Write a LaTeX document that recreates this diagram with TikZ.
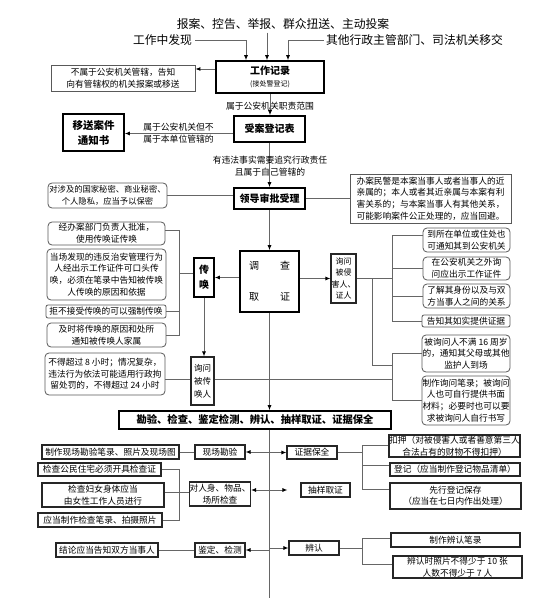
\documentclass[tikz,border=0pt]{standalone}
\usepackage{fontspec}
\setmainfont{Noto Sans CJK SC}
\usetikzlibrary{arrows.meta,calc}
\begin{document}
\begin{tikzpicture}[x=1pt,y=-1pt,
  conn/.style={draw=black!60, line width=0.9pt},
  arr/.style={conn, -{Latex[length=5pt,width=4pt,black]}},
  wh/.style 2 args={minimum width=#1pt, minimum height=#2pt},
  hbox/.style={draw=black, line width=1.6pt, inner sep=0pt, align=center, font=\bfseries\fontsize{10}{13}\selectfont},
  mbox/.style={draw=black!85, line width=1.1pt, inner sep=0pt, align=center, font=\fontsize{8.7}{11.5}\selectfont},
  nbox/.style={draw=black!65, line width=0.8pt, inner sep=0pt, align=center, font=\fontsize{8.7}{11.8}\selectfont},
  note/.style={nbox, rounded corners=4pt},
  lbl/.style={inner sep=0pt, align=center, font=\fontsize{8.8}{12}\selectfont},
  big/.style={inner sep=0pt, font=\fontsize{11.8}{14}\selectfont}]
\useasboundingbox (0,0) rectangle (554,612);
\fill[white] (0,0) rectangle (554,612);

% sources
\node[big] (src) at (283,24) {报案、控告、举报、群众扭送、主动投案};
\node[big] (gzfx) at (162.5,40) {工作中发现};
\node[big] (qita) at (414.5,40) {其他行政主管部门、司法机关移交};
\node[hbox, wh={108}{32}] (gzjl) at (270,77) {工作记录\\[-1pt]{\mdseries\fontsize{7}{9}\selectfont (接处警登记)}};
\draw[arr, shorten <=3pt] (gzfx.east) -| ([xshift=-24pt]gzjl.north);
\draw[arr, shorten <=3pt] ([xshift=-16pt]src.south) -- ([xshift=-3pt]gzjl.north);
\draw[arr, shorten <=2pt] (qita.west) -| ([xshift=18pt]gzjl.north);

\node[nbox, wh={144}{26}] (bushu) at (123,78) {不属于公安机关管辖，告知\\向有管辖权的机关报案或移送};
\draw[arr] ([yshift=8pt]gzjl.west) -- ([yshift=8pt]gzjl.west -| bushu.east);

% shouan
\node[hbox, wh={71}{26}] (shouan) at (269.5,129) {受案登记表};
\draw[arr] (gzjl.south) -- (gzjl.south |- shouan.north);
\node[lbl] (l1) at (270,106) {属于公安机关职责范围};

\node[hbox, wh={61}{37}, font=\bfseries\fontsize{10.5}{15}\selectfont] (yisong) at (93.5,132.5) {移送案件\\通知书};
\draw[arr] ([yshift=-4.5pt]shouan.west) -- ([yshift=-4.5pt]shouan.west -| yisong.east);
\node[lbl, align=left, font=\fontsize{8.8}{12.5}\selectfont] (l2) at (178.5,133) {属于公安机关但不\\属于本单位管辖的};

% lingdao
\node[hbox, wh={71}{21}] (lingdao) at (269.5,198.5) {领导审批受理};
\draw[arr] (shouan.south) -- (shouan.south |- lingdao.north);
\node[lbl] (l3) at (270,166) {有违法事实需要追究行政责任\\且属于自己管辖的};

\node[note, wh={119}{25}, font=\fontsize{8.3}{11.5}\selectfont] (baomi) at (107.5,195.5) {对涉及的国家秘密、商业秘密、\\个人隐私，应当予以保密};
\draw[conn] (baomi.east) -- (baomi.east -| lingdao.west);
\node[nbox, wh={161}{49}, align=left] (huibi) at (430.5,198.5) {办案民警是本案当事人或者当事人的近\\亲属的；本人或者其近亲属与本案有利\\害关系的；与本案当事人有其他关系，\\可能影响案件公正处理的，应当回避。};
\draw[conn] (lingdao.east) -- (lingdao.east -| huibi.west);

% diaocha
\node[hbox, wh={59}{61}, font=\fontsize{10}{31}\selectfont] (diaocha) at (269.5,281.5) {调\hspace{21pt}查\\取\hspace{21pt}证};
\draw[arr] (lingdao.south) -- (lingdao.south |- diaocha.north);

\node[hbox, wh={20}{39}, font=\bfseries\fontsize{10}{15}\selectfont] (chuanhuan) at (204,277.5) {传\\唤};
\draw[arr] (diaocha.west |- chuanhuan.east) -- (chuanhuan.east);

\node[mbox, wh={25}{49}, font=\fontsize{8}{11.5}\selectfont] (xq) at (343.5,278.5) {询问\\被侵\\害人、\\证人};
\draw[arr] (diaocha.east |- xq.west) -- (xq.west);

% left notes for chuanhuan
\node[note, wh={117}{23}] (n1) at (106.5,233.5) {经办案部门负责人批准，\\使用传唤证传唤};
\node[note, wh={119}{51}] (n2) at (106.5,274.5) {当场发现的违反治安管理行为\\人经出示工作证件可口头传\\唤，必须在笔录中告知被传唤\\人传唤的原因和依据};
\node[note, wh={120}{13}, rounded corners=2pt] (n3) at (106,311.5) {拒不接受传唤的可以强制传唤};
\node[note, wh={119}{24}] (n4) at (106.5,335) {及时将传唤的原因和处所\\通知被传唤人家属};
\coordinate (kx) at (179,0);
\draw[conn] ([yshift=3pt]n1.east) -| (n4.east -| kx) -- (n4.east);
\draw[conn] (n3.east) -- (n3.east -| kx);
\draw[conn] ([yshift=4pt]chuanhuan.west) -- ([yshift=4pt]chuanhuan.west -| kx);

% xunwen bei chuanhuan ren
\node[mbox, wh={23}{48}, font=\fontsize{8.5}{13}\selectfont] (xb) at (202.5,381) {询问\\被传\\唤人};
\draw[arr] (chuanhuan.south) -- (chuanhuan.south |- xb.north);
\node[note, wh={120}{42}] (n5) at (105,374) {不得超过 8 小时；情况复杂，\\违法行为依法可能适用行政拘\\留处罚的，不得超过 24 小时};
\draw[conn] ([yshift=2pt]xb.west -| n5.east) -- ([yshift=2pt]xb.west);

% right notes
\node[note, wh={87}{24}] (r1) at (466.5,240) {到所在单位或住处也\\可通知其到公安机关};
\node[note, wh={87}{23}] (r2) at (466.5,268.5) {在公安机关之外询\\问应出示工作证件};
\node[note, wh={87}{24}] (r3) at (466.5,296) {了解其身份以及与双\\方当事人之间的关系};
\node[note, wh={88}{12}, rounded corners=2pt] (r4) at (466,321) {告知其如实提供证据};
\node[note, wh={88}{37}] (r5) at (466,353.5) {被询问人不满 16 周岁\\的，通知其父母或其他\\监护人到场};
\node[note, wh={88}{49}] (r6) at (466,400.5) {制作询问笔录；被询问\\人也可自行提供书面\\材料；必要时也可以要\\求被询问人自行书写};
\coordinate (bB) at (392,0);
\coordinate (bC) at (372,0);
\draw[conn] ([yshift=5pt]r1.west) -| (r4.west -| bB) -- (r4.west);
\draw[conn] (r2.west) -- (r2.west -| bB);
\draw[conn] (r3.west) -- (r3.west -| bB);
\draw[conn] (xq.east) -- (xq.east -| bB);
\draw[conn] (xq.east -| bC) |- ([yshift=-11.5pt]r5.west -| bB);
\draw[conn] (r5.west) -| (r6.west -| bB) -- (r6.west);
\draw[conn] ([yshift=2pt]xb.east) -- ([yshift=2pt]xb.east -| bB);

% kanyan
\node[hbox, wh={272}{18}, font=\bfseries\fontsize{10.3}{13}\selectfont] (kanyan) at (255,420) {勘验、检查、鉴定检测、辨认、抽样取证、证据保全};
\draw[arr] (diaocha.south) -- (diaocha.south |- kanyan.north);
\coordinate (mEnd) at (269.5,598);
\draw[conn] (kanyan.south -| mEnd) -- (mEnd);

% bottom left
\node[mbox, wh={137}{14}] (b1) at (110.5,452) {制作现场勘验笔录、照片及现场图};
\node[mbox, wh={50}{14}] (xckc) at (220,452) {现场勘验};
\draw[conn] (b1.east) -- (xckc.west);
\draw[arr] (xckc.east -| mEnd) -- (xckc.east);

\node[mbox, wh={123}{13}] (b2) at (99.5,469.5) {检查公民住宅必须开具检查证};
\node[mbox, wh={122}{24}] (b3) at (103,495) {检查妇女身体应当\\由女性工作人员进行};
\node[mbox, wh={124}{14}] (b4) at (100,520) {应当制作检查笔录、拍摄照片};
\node[mbox, wh={56}{24}] (dw) at (220,494) {对人身、物品、\\场所检查};
\draw[conn] (b2.east) -| (b4.east -| kx) -- (b4.east);
\draw[conn] ([yshift=3pt]b3.east) -- ([yshift=3pt]b3.east -| dw.west);

\node[mbox, wh={102}{14}] (b5) at (107,550) {结论应当告知双方当事人};
\node[mbox, wh={50}{14}] (jd) at (220,550) {鉴定、检测};
\draw[conn] (b5.east) -- (jd.west);
\draw[arr] (jd.east -| mEnd) -- (jd.east);

% bottom right
\node[mbox, wh={50}{13}] (zj) at (312,452.5) {证据保全};
\draw[arr] (zj.west -| mEnd) -- (zj.west);
\node[mbox, wh={49}{14}] (cy) at (325.5,490) {抽样取证};
\draw[arr] (cy.west -| mEnd) -- (cy.west -| dw.east);
\draw[arr] (cy.west -| mEnd) -- ([xshift=-13pt]cy.west);

\node[mbox, wh={131}{22}] (c1) at (454.5,446) {扣押（对被侵害人或者善意第三人\\合法占有的财物不得扣押）};
\node[mbox, wh={130}{13}] (c2) at (455,469.5) {登记（应当制作登记物品清单）};
\node[mbox, wh={131}{26}] (c3) at (455.5,496) {先行登记保存\\（应当在七日内作出处理）};
\coordinate (bD) at (362,0);
\draw[conn] (zj.east) -- (zj.east -| bD);
\draw[conn] ([yshift=1pt]c1.west) -| ([yshift=7pt]c3.west -| bD) -- ([yshift=7pt]c3.west);
\draw[conn] ([yshift=4.5pt]c2.west -| bD) -- ([yshift=4.5pt]c2.west);

\node[mbox, wh={50}{14}] (bx) at (314,548) {辨认};
\draw[arr] (bx.west -| mEnd) -- (bx.west);
\node[mbox, wh={129}{14}] (d1) at (455.5,540) {制作辨认笔录};
\node[mbox, wh={129}{22}] (d2) at (457.5,567) {辨认时照片不得少于 10 张\\人数不得少于 7 人};
\draw[conn] (bx.east) -- (bx.east -| bD);
\draw[conn] ([yshift=2pt]d1.west) -| ([yshift=3pt]d2.west -| bD) -- ([yshift=3pt]d2.west);
\end{tikzpicture}
\end{document}
